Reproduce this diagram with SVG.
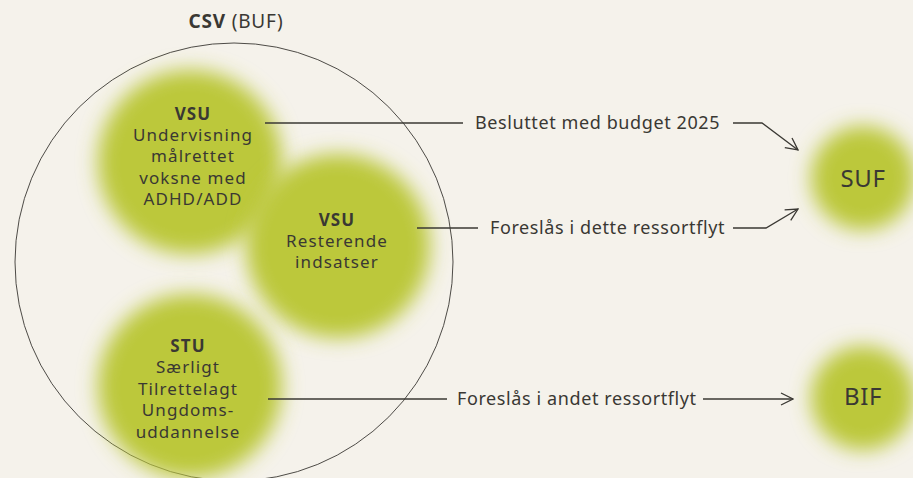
<svg xmlns="http://www.w3.org/2000/svg" width="913" height="478" viewBox="0 0 913 478">
<style>
  text { font-family: "Noto Sans", "DejaVu Sans", sans-serif; fill: #3a3833; }
  .lbl { font-size: 17px; text-anchor: middle; letter-spacing: 1.1px; }
  .ttl { font-size: 19px; text-anchor: middle; letter-spacing: 0.8px; }
  .b { font-weight: bold; }
  .edge { font-size: 18px; letter-spacing: 0.6px; }
  .big { font-size: 24px; text-anchor: middle; letter-spacing: 0.6px; }
  .ln { stroke: #3a3833; stroke-width: 1.3; fill: none; }
  .blob { fill: #bcc83a; filter: url(#soft); }
</style>
<defs>
  <filter id="soft" x="-40%" y="-40%" width="180%" height="180%">
    <feGaussianBlur stdDeviation="10"/>
  </filter>
  <marker id="arr" viewBox="0 0 14 14" refX="13" refY="7" markerWidth="14" markerHeight="14" markerUnits="userSpaceOnUse" orient="auto">
    <path d="M1,1 L13,7 L1,13" fill="none" stroke="#3a3833" stroke-width="1.3"/>
  </marker>
</defs>
<rect width="913" height="478" fill="#f5f2eb"/>

<g id="csv">
  <circle cx="234" cy="262" r="219" fill="none" stroke="#3a3833" stroke-width="0.9"/>
  <text x="236" y="28" class="ttl"><tspan class="b">CSV</tspan> (BUF)</text>
</g>

<g id="vsu1">
  <circle class="blob" cx="190" cy="162" r="92"/>
  <text class="lbl" x="193"><tspan x="193" y="120" class="b">VSU</tspan><tspan x="193" y="141">Undervisning</tspan><tspan x="193" y="162">målrettet</tspan><tspan x="193" y="184">voksne med</tspan><tspan x="193" y="205">ADHD/ADD</tspan></text>
</g>

<g id="vsu2">
  <circle class="blob" cx="338" cy="246" r="92"/>
  <text class="lbl" x="337"><tspan x="337" y="226" class="b">VSU</tspan><tspan x="337" y="247">Resterende</tspan><tspan x="337" y="268">indsatser</tspan></text>
</g>

<g id="stu">
  <circle class="blob" cx="190" cy="386" r="92"/>
  <text class="lbl" x="188"><tspan x="188" y="352" class="b">STU</tspan><tspan x="188" y="373">Særligt</tspan><tspan x="188" y="395">Tilrettelagt</tspan><tspan x="188" y="416">Ungdoms-</tspan><tspan x="188" y="438">uddannelse</tspan></text>
</g>

<g id="suf">
  <circle class="blob" cx="863" cy="178" r="52"/>
  <text x="863" y="187" class="big">SUF</text>
</g>

<g id="bif">
  <circle class="blob" cx="863" cy="398" r="52"/>
  <text x="863" y="405" class="big">BIF</text>
</g>

<g id="connectors">
  <line class="ln" x1="265" y1="123" x2="463" y2="123"/>
  <text class="edge" x="475" y="129">Besluttet med budget 2025</text>
  <polyline class="ln" points="733,123 762,123 798,150" marker-end="url(#arr)"/>

  <line class="ln" x1="417" y1="228" x2="478" y2="228"/>
  <text class="edge" x="490" y="234">Foreslås i dette ressortflyt</text>
  <polyline class="ln" points="733,228 766,228 798,209" marker-end="url(#arr)"/>

  <line class="ln" x1="268" y1="399" x2="447" y2="399"/>
  <text class="edge" x="457" y="405">Foreslås i andet ressortflyt</text>
  <line class="ln" x1="703" y1="399" x2="793" y2="399" marker-end="url(#arr)"/>
</g>
</svg>
